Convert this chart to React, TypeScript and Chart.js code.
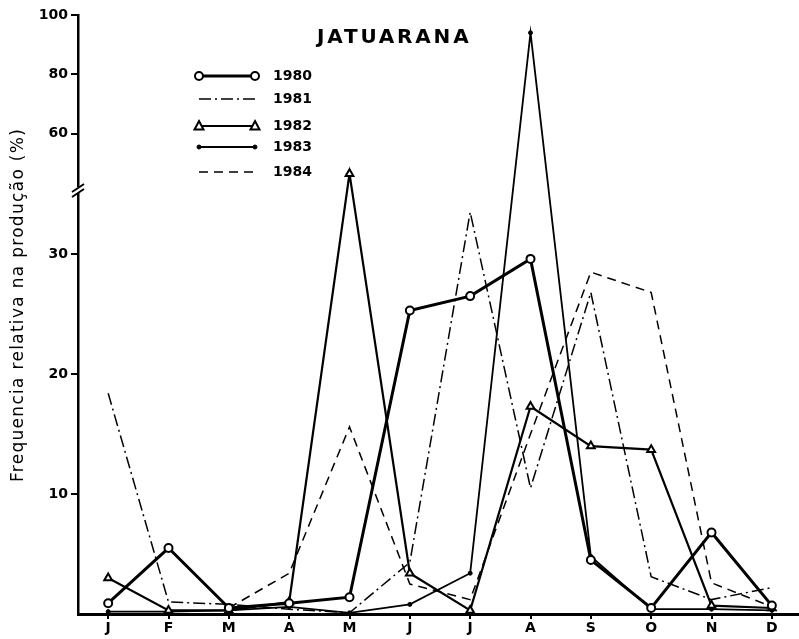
import React, { useEffect, useRef } from 'react';
import { Chart, registerables, LinearScale } from 'chart.js';

const MONTHS = ['J', 'F', 'M', 'A', 'M', 'J', 'J', 'A', 'S', 'O', 'N', 'D'];
const S1980 = [0.9, 5.5, 0.5, 0.9, 1.4, 25.3, 26.5, 29.6, 4.5, 0.5, 6.8, 0.7];
const S1981 = [18.4, 1.0, 0.8, 0.4, 0.1, 4.3, 33.5, 10.5, 26.8, 3.1, 1.2, 2.2];
const S1982 = [3.0, 0.3, 0.3, 1.0, 46.5, 3.4, 0.3, 17.3, 14.0, 13.7, 0.7, 0.5];
const S1983 = [0.2, 0.2, 0.3, 0.6, 0.1, 0.8, 3.4, 94, 4.8, 0.4, 0.4, 0.3];
const S1984: (number | null)[] = [null, null, 0.5, 3.4, 15.6, 2.5, 1.2, 15, 28.5, 26.8, 2.6, 0.6];
const Y_TICKS = [10, 20, 30, 60, 80, 100];
const SERIES_LABELS = ['1980', '1981', '1982', '1983', '1984'];
const TITLE = 'JATUARANA';
const Y_TITLE = 'Frequencia relativa na produção (%)';

// broken axis: 0-35 full scale, 40-100 compressed
const BREAK_LOW = 35;
const BREAK_HIGH = 40;
const GAP = 0.1;
const UPPER_RATIO = 0.2472;
function toDisp(v: number) {
  if (v <= BREAK_LOW) return v;
  if (v >= BREAK_HIGH) return BREAK_LOW + GAP + (v - BREAK_HIGH) * UPPER_RATIO;
  return BREAK_LOW + ((v - BREAK_LOW) / (BREAK_HIGH - BREAK_LOW)) * GAP;
}
function fromDisp(d: number) {
  if (d <= BREAK_LOW) return d;
  if (d >= BREAK_LOW + GAP) return BREAK_HIGH + (d - BREAK_LOW - GAP) / UPPER_RATIO;
  return BREAK_LOW + ((d - BREAK_LOW) / GAP) * (BREAK_HIGH - BREAK_LOW);
}

class BrokenLinearScale extends LinearScale {
  static id = 'brokenLinear';
  static defaults = LinearScale.defaults;
  getPixelForValue(value: any) {
    if (value === null || value === undefined || isNaN(value)) return NaN;
    return super.getPixelForValue(toDisp(value));
  }
  getValueForPixel(px: number) {
    return fromDisp(super.getValueForPixel(px) as number);
  }
  buildTicks() {
    return Y_TICKS.map((v) => ({ value: v }));
  }
}

Chart.register(...registerables, BrokenLinearScale as any);

const FONT = "'DejaVu Sans', sans-serif";

const toXY = (arr: (number | null)[]) => arr.map((v, i) => ({ x: i, y: v }));

const decorPlugin = {
  id: 'decor',
  afterDraw(chart: any) {
    const ctx = chart.ctx as CanvasRenderingContext2D;
    ctx.save();
    // axis break
    ctx.fillStyle = '#fff';
    ctx.fillRect(72, 187, 12, 6);
    ctx.strokeStyle = '#000';
    ctx.lineWidth = 2;
    ctx.beginPath();
    ctx.moveTo(72, 192);
    ctx.lineTo(84, 184);
    ctx.moveTo(72, 197);
    ctx.lineTo(84, 189);
    ctx.stroke();

    // title
    ctx.fillStyle = '#000';
    ctx.font = `bold 20px ${FONT}`;
    (ctx as any).letterSpacing = '2.8px';
    ctx.textAlign = 'left';
    ctx.textBaseline = 'middle';
    ctx.fillText(TITLE, 317, 38);
    (ctx as any).letterSpacing = '0px';

    // y-axis title
    ctx.save();
    ctx.translate(19, 305);
    ctx.rotate(-Math.PI / 2);
    ctx.font = `17px ${FONT}`;
    (ctx as any).letterSpacing = '1.3px';
    ctx.textAlign = 'center';
    ctx.textBaseline = 'middle';
    ctx.fillText(Y_TITLE, 0, 0);
    ctx.restore();

    // legend
    const rows = [76, 99, 126, 147, 172];
    const x0 = 199;
    const x1 = 255;
    chart.data.datasets.forEach((ds: any, i: number) => {
      const y = rows[i];
      ctx.save();
      ctx.strokeStyle = '#000';
      ctx.lineWidth = ds.borderWidth;
      ctx.setLineDash(ds.borderDash || []);
      ctx.beginPath();
      ctx.moveTo(x0, y);
      ctx.lineTo(x1, y);
      ctx.stroke();
      ctx.setLineDash([]);
      if (ds.pointRadius > 0) {
        [x0, x1].forEach((px) => {
          ctx.lineWidth = ds.pointBorderWidth;
          ctx.fillStyle = ds.pointBackgroundColor;
          ctx.beginPath();
          const r = ds.pointRadius;
          if (ds.pointStyle === 'triangle') {
            ctx.moveTo(px, y - r * 1.1);
            ctx.lineTo(px + r, y + r * 0.8);
            ctx.lineTo(px - r, y + r * 0.8);
            ctx.closePath();
          } else {
            ctx.arc(px, y, r, 0, Math.PI * 2);
          }
          ctx.fill();
          ctx.stroke();
        });
      }
      ctx.fillStyle = '#000';
      ctx.font = `bold 14px ${FONT}`;
      ctx.textAlign = 'left';
      ctx.textBaseline = 'middle';
      ctx.fillText(ds.label, 273, y);
      ctx.restore();
    });
    ctx.restore();
  },
};

export default function App() {
  const ref = useRef<HTMLCanvasElement>(null);
  useEffect(() => {
    if (!ref.current) return;
    const chart = new Chart(ref.current, {
      type: 'line',
      data: {
        datasets: [
          {
            label: SERIES_LABELS[0],
            data: toXY(S1980),
            borderColor: '#000',
            borderWidth: 3,
            pointStyle: 'circle',
            pointRadius: 4,
            pointBorderWidth: 2,
            pointBackgroundColor: '#fff',
            pointBorderColor: '#000',
          },
          {
            label: SERIES_LABELS[1],
            data: toXY(S1981),
            borderColor: '#000',
            borderWidth: 1.5,
            borderDash: [12, 4, 2, 4],
            pointRadius: 0,
            pointBorderWidth: 0,
            pointBackgroundColor: '#000',
          },
          {
            label: SERIES_LABELS[2],
            data: toXY(S1982),
            borderColor: '#000',
            borderWidth: 2.2,
            pointStyle: 'triangle',
            pointRadius: 4.5,
            pointBorderWidth: 2,
            pointBackgroundColor: '#fff',
            pointBorderColor: '#000',
          },
          {
            label: SERIES_LABELS[3],
            data: toXY(S1983),
            borderColor: '#000',
            borderWidth: 1.8,
            pointStyle: 'circle',
            pointRadius: 2,
            pointBorderWidth: 1,
            pointBackgroundColor: '#000',
            pointBorderColor: '#000',
          },
          {
            label: SERIES_LABELS[4],
            data: toXY(S1984),
            borderColor: '#000',
            borderWidth: 1.5,
            borderDash: [9, 6],
            pointRadius: 0,
            pointBorderWidth: 0,
            pointBackgroundColor: '#000',
          },
        ],
      },
      options: {
        animation: false,
        responsive: false,
        devicePixelRatio: 1,
        layout: { autoPadding: false, padding: { top: 15, left: 0, right: 0, bottom: 0 } },
        plugins: { legend: { display: false }, tooltip: { enabled: false }, title: { display: false } },
        elements: { line: { tension: 0, fill: false } },
        scales: {
          x: {
            type: 'linear',
            min: -0.5,
            max: 11.45,
            afterBuildTicks: (axis: any) => {
              axis.ticks = MONTHS.map((_, i) => ({ value: i }));
            },
            afterFit: (scale: any) => {
              scale.height = 25;
              scale.paddingLeft = 0;
              scale.paddingRight = 0;
            },
            ticks: {
              color: '#000',
              font: { family: FONT, size: 14, weight: 'bold' },
              padding: 1,
              maxRotation: 0,
              autoSkip: false,
              callback: (v: any) => MONTHS[v as number],
            },
            grid: { drawOnChartArea: false, drawTicks: true, tickLength: 5, color: '#000', lineWidth: 2 },
            border: { display: true, color: '#000', width: 3 },
          },
          y: {
            type: 'brokenLinear' as any,
            min: 0,
            max: toDisp(100),
            afterFit: (scale: any) => {
              scale.width = 78;
            },
            ticks: {
              color: '#000',
              font: { family: FONT, size: 14, weight: 'bold' },
              padding: 3,
              autoSkip: false,
            },
            grid: { drawOnChartArea: false, drawTicks: true, tickLength: 7, color: '#000', lineWidth: 2 },
            border: { display: true, color: '#000', width: 2.5 },
          } as any,
        },
      },
      plugins: [decorPlugin],
    });
    return () => chart.destroy();
  }, []);
  return (
    <div style={{ position: 'absolute', left: 0, top: 0, width: 799, height: 639, background: '#fff' }}>
      <canvas ref={ref} width={799} height={639} />
    </div>
  );
}
